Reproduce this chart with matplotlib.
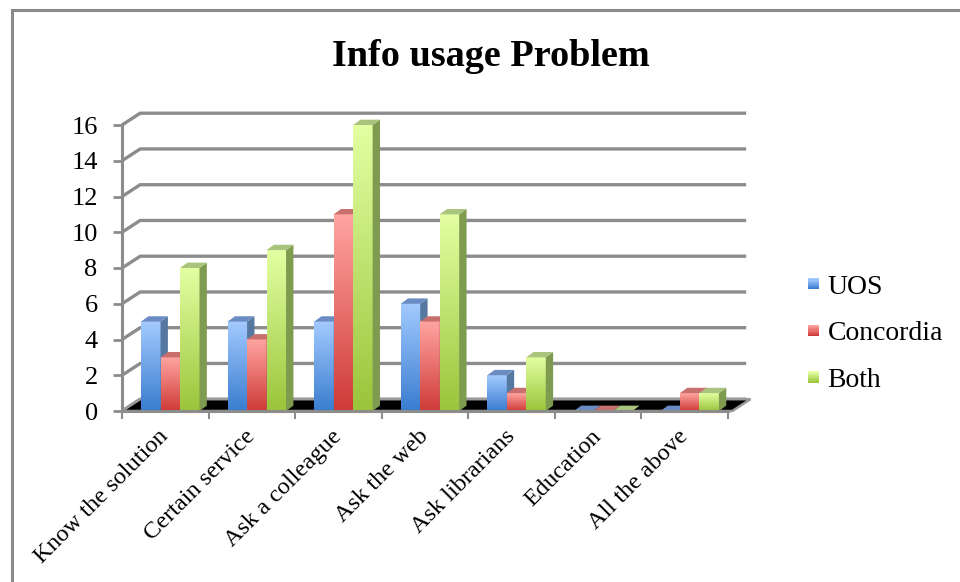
import numpy as np
import matplotlib
matplotlib.use("Agg")
import matplotlib.pyplot as plt
from matplotlib.patches import Polygon, Rectangle, Patch
from matplotlib.legend_handler import HandlerBase
from matplotlib.colors import LinearSegmentedColormap

plt.rcParams["font.family"] = ["Liberation Serif", "DejaVu Serif"]

categories = ["Know the solution", "Certain service", "Ask a colleague", "Ask the web",
              "Ask librarians", "Education", "All the above"]
series = ["UOS", "Concordia", "Both"]
uos = [5, 5, 5, 6, 2, 0, 0]
concordia = [3, 4, 11, 5, 1, 0, 1]
both = [8, 9, 16, 11, 3, 0, 1]
values = [uos, concordia, both]
yticks = list(range(0, 17, 2))

# (light top, dark bottom, side face, top face)
palette = [("#a3caff", "#3a7dd0", "#56779f", "#6b8cc2"),
           ("#ffa4a0", "#cf3b38", "#a8605e", "#c8706e"),
           ("#e3ffa2", "#9bc53b", "#7f9b4f", "#a9c47c")]

GRID = "#8c8c8c"
DX, DY = 0.21, 0.66        # wall depth (category units, value units)
BDX, BDY = 0.085, 0.30     # bar depth
BW = 0.225                 # bar width
B0 = -0.28                 # first bar offset from category centre

fig = plt.figure(figsize=(9.6, 5.82), dpi=100)
ax = fig.add_axes([122 / 960, 171 / 582, 606 / 960, 286 / 582])
ax.set_xlim(-0.5, 6.5)
ax.set_ylim(0, 16)

# outer chart frame
fig.patches.append(Rectangle((12 / 960, -0.2), 1.2, 1.2 - 10 / 582, transform=fig.transFigure,
                             fill=False, ec="#8a8a8a", lw=2.2, clip_on=False))

# back wall gridlines with the diagonal connectors from the front axis
for v in yticks:
    ax.plot([-0.5, -0.5 + DX, 6.5 + DX], [v, v + DY, v + DY], color=GRID, lw=2.4,
            solid_capstyle="butt", clip_on=False, zorder=1)

# floor slab
floor = Polygon([(-0.5, 0), (6.55, 0), (6.55 + DX, DY), (-0.5 + DX, DY)], closed=True,
                fc="black", ec="#9a9a9a", lw=1.8, clip_on=False, zorder=2)
ax.add_patch(floor)

for i in range(len(categories)):
    for s, vals in enumerate(values):
        top_c, bot_c, side_c, topf_c = palette[s]
        v = vals[i]
        x0 = i + B0 + s * BW
        x1 = x0 + BW
        if v > 0:
            cmap = LinearSegmentedColormap.from_list("g", [bot_c, top_c])
            grad = np.linspace(1, 0, 64).reshape(-1, 1)
            ax.imshow(grad, cmap=cmap, extent=(x0, x1, 0, v), aspect="auto",
                      interpolation="bilinear", zorder=3, clip_on=False, origin="upper")
            ax.add_patch(Polygon([(x1, 0), (x1 + BDX, BDY), (x1 + BDX, v + BDY), (x1, v)],
                                 closed=True, fc=side_c, ec="none", zorder=3, clip_on=False))
        ax.add_patch(Polygon([(x0, v), (x1, v), (x1 + BDX, v + BDY), (x0 + BDX, v + BDY)],
                             closed=True, fc=topf_c, ec="none", zorder=3, clip_on=False))

ax.set_xlim(-0.5, 6.5)
ax.set_ylim(0, 16)

for side in ["top", "right"]:
    ax.spines[side].set_visible(False)
for side in ["left", "bottom"]:
    ax.spines[side].set_color(GRID)
    ax.spines[side].set_linewidth(2.2)
    ax.spines[side].set_zorder(4)

ax.set_yticks(yticks)
ax.tick_params(axis="y", length=6.5, width=2, color=GRID, labelsize=19, pad=11)
ax.set_xticks(np.arange(-0.5, 7, 1.0))
ax.set_xticklabels([])
ax.tick_params(axis="x", which="major", length=5.5, width=1.5, color=GRID)
ax.set_xticks(np.arange(len(categories)), minor=True)
ax.set_xticklabels(categories, minor=True)
ax.tick_params(axis="x", which="minor", length=0, labelsize=17.5, pad=16)
for lab in ax.get_xticklabels(minor=True):
    lab.set_rotation(45)
    lab.set_ha("right")
    lab.set_va("center")
    lab.set_rotation_mode("anchor")

fig.text(491 / 960, 1 - 56 / 582, "Info usage Problem", ha="center", va="center",
         fontsize=27.5, fontweight="bold")


class GradientSquare(HandlerBase):
    def __init__(self, top_c, bot_c):
        super().__init__()
        self.top_c, self.bot_c = top_c, bot_c

    def create_artists(self, legend, orig_handle, xdescent, ydescent, width, height,
                       fontsize, trans):
        cmap = LinearSegmentedColormap.from_list("g", [self.bot_c, self.top_c])
        size = min(width, height)
        n = 10
        out = []
        for k in range(n):
            out.append(Rectangle((-xdescent, -ydescent + (height - size) / 2 + k * size / n),
                                 size, size / n + 0.3, fc=cmap(k / (n - 1)), ec="none",
                                 transform=trans))
        return out


handles = [Patch(label=name) for name in series]
hmap = {h: GradientSquare(palette[k][0], palette[k][1]) for k, h in enumerate(handles)}
fig.legend(handles=handles, handler_map=hmap, loc="center left",
           bbox_to_anchor=(808 / 960, 1 - 334 / 582), frameon=False, fontsize=20,
           handlelength=0.4, handleheight=0.4, handletextpad=0.3, labelspacing=0.78,
           borderpad=0, borderaxespad=0)

fig.savefig("out.png", dpi=100)
